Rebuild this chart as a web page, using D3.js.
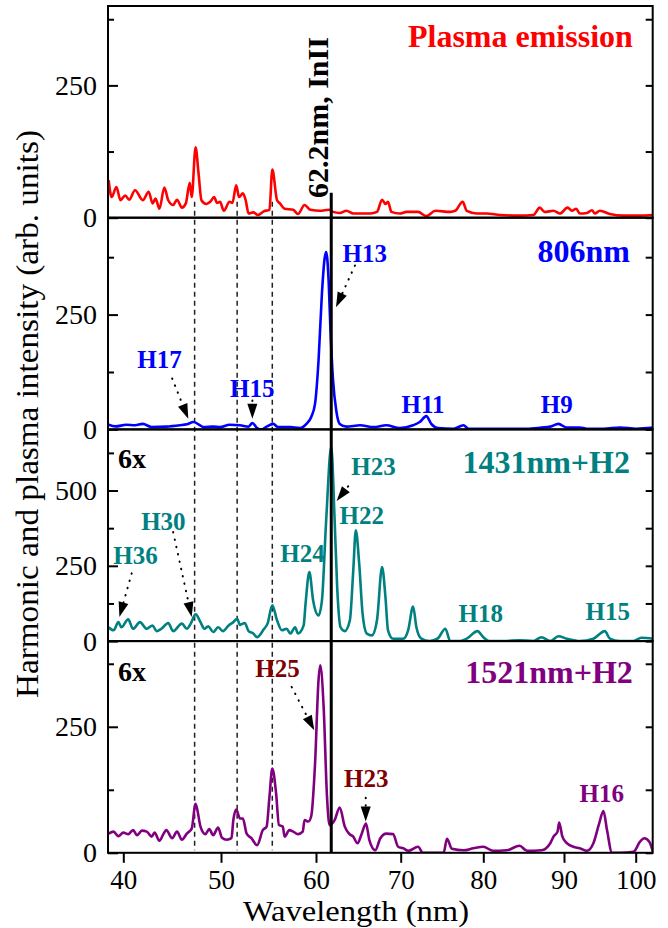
<!DOCTYPE html>
<html>
<head>
<meta charset="utf-8">
<script src="https://cdn.jsdelivr.net/npm/d3@7"></script>
<style>
  body { margin: 0; background: #fff; }
  text { font-family: "Liberation Serif", "Times New Roman", serif; }
</style>
</head>
<body>
<div id="chart"></div>
<script>

// ---- data (wavelength in nm, intensity in arb. units) ----
var plasmaWl = [38.5,38.8,39.3,39.7,40.2,40.6,41.2,42.0,42.6,43.0,43.3,43.7,44.2,44.6,45.1,45.5,46.0,46.4,46.8,47.0,
  47.4,47.7,48.0,48.5,48.9,49.3,49.6,49.9,50.3,50.9,51.2,51.6,51.9,52.3,52.6,52.9,53.4,53.9,54.5,55.1,
  55.4,55.9,56.2,56.7,57.6,58.1,58.8,59.4,60.5,61.5,62.0,62.8,63.6,64.4,66.4,67.2,67.8,68.2,68.5,68.9,
  69.9,70.7,72.1,73.1,74.2,76.0,76.6,77.5,78.0,79.2,80.4,82.1,84.5,86.2,87.0,87.6,88.7,89.5,90.5,91.1,
  91.7,92.2,93.2,93.9,94.3,95.0,96.4,98.3,100.6,102.4];
var plasmaI = [71,39,58,33,42,34,52,33,49,27,36,17,57,33,24,34,19,27,66,39,
  133,84,33,26,30,39,28,30,13,30,28,61,39,46,33,8,10,5,12,15,
  91,33,27,17,15,7,24,15,13,15,11,9,13,8,8,11,34,26,30,11,
  8,11,11,3,13,11,13,30,13,8,8,5,4,5,19,11,13,8,19,13,
  17,8,9,14,8,13,7,4,4,5];

var h806Wl = [38.5,39.2,40.3,41.2,42.0,42.9,44.4,45.8,46.5,47.2,47.7,48.2,49.2,49.9,50.9,52.0,52.9,53.3,53.8,54.3,
  54.8,55.5,56.0,57.3,58.3,59.0,59.5,59.9,60.3,60.7,61.0,61.2,61.5,61.7,62.0,62.4,62.8,63.6,65.2,66.8,
  68.3,69.9,71.5,72.3,73.1,73.7,74.5,76.4,77.6,78.2,80.4,82.9,85.4,87.2,88.3,89.3,90.4,92.2,93.2,95.5,
  97.8,100.1,102.4];
var h806I = [10,6.5,10,9,12,5,6,9,11,16,11,5,6,5,10,9,6,14,3,0,
  6,12,5,5,3,12,27,56,150,296,370,386,320,220,110,40,12,6,9,5,
  9,3,9,16,29,12,3,1.5,9,1.5,1.5,1.5,1.5,4,6,12,4,4,1.5,1.5,
  4,1.5,4];

var h1431Wl = [38.5,39.0,39.5,39.8,40.5,41.0,41.7,42.4,43.0,43.4,43.9,44.6,45.1,46.0,46.5,46.9,47.4,47.9,48.3,48.7,
  49.2,49.7,50.2,50.8,51.3,51.7,52.0,52.5,52.9,53.4,53.8,54.5,54.9,55.4,55.9,56.4,56.9,57.3,57.8,58.1,
  58.7,58.9,59.3,59.7,60.3,60.7,61.2,61.8,62.2,62.5,62.9,63.4,64.0,64.4,64.7,65.1,65.5,66.0,66.6,67.2,
  67.8,68.2,68.5,69.1,70.3,70.9,71.5,71.9,72.5,73.5,74.5,75.4,76.0,77.2,78.0,79.3,80.0,80.8,82.5,84.5,
  86.2,87.2,88.3,89.3,90.4,92.2,94.1,95.7,96.4,97.8,99.7,100.8,102.4];
var h1431I = [46,36,63,46,72,41,63,41,52,33,41,60,33,58,41,58,89,63,41,49,
  30,46,33,52,63,74,54,60,33,25,13,39,58,119,69,36,41,25,46,25,
  52,124,229,135,85,135,401,645,401,179,46,33,69,235,368,257,91,25,19,69,
  246,146,36,8,8,36,115,46,8,0,9,41,0,0,8,33,13,0,0,3,
  0,13,0,16,8,0,8,33,8,0,0,11,8];

var h1521Wl = [38.5,39.0,39.5,40.0,40.5,41.0,41.4,41.9,42.4,42.9,43.2,43.7,44.1,44.4,45.0,45.5,46.0,46.5,47.0,47.4,
  47.9,48.4,48.8,49.2,49.7,50.1,50.6,51.1,51.3,51.6,52.0,52.3,52.7,53.2,53.8,54.4,54.8,55.1,55.4,55.8,
  56.1,56.5,56.7,57.2,57.6,58.1,58.6,58.8,59.2,59.5,59.9,60.3,60.5,60.9,61.3,61.6,62.2,62.8,63.4,63.9,
  64.4,64.9,65.4,65.9,66.3,67.0,67.6,68.3,69.1,69.7,70.3,70.9,72.1,72.7,75.2,75.6,76.2,77.6,78.8,80.0,
  81.2,82.9,84.5,85.4,87.2,88.3,88.7,89.2,89.4,89.8,90.4,91.3,92.2,93.2,94.1,94.9,95.5,96.0,96.7,97.8,
  99.7,100.6,101.2,101.9,102.4];
var h1521I = [38,42,33,40,37,45,35,44,42,32,40,24,37,45,29,42,26,38,48,97,
  52,37,47,35,50,30,26,29,65,86,68,68,38,29,15,45,52,111,167,118,
  55,52,32,45,42,37,42,65,62,73,177,343,372,290,111,55,65,90,52,38,
  32,19,38,58,25,5,29,38,37,12,9,4,12,0,0,28,8,5,9,12,
  4,5,14,4,5,19,32,42,60,32,19,12,9,4,19,58,83,45,0,0,
  2,22,29,22,2];

var xTicks = [40, 50, 60, 70, 80, 90, 100];
var dashedWl = [47.3, 51.7, 55.4];   // dashed guide lines
var inIIWl = 61.8;                   // solid line, "62.2nm, InII"

// harmonic labels: [text, wavelength, intensity]
var labels806  = [["H17", 43.7, 133], ["H15", 53.3, 70], ["H13", 65.75, 364], ["H11", 72.7, 36], ["H9", 89.1, 36]];
var labels1431 = [["H36", 41.25, 257], ["H30", 44.1, 370], ["H24", 58.58, 262], ["H23", 66.8, 550],
                  ["H22", 65.4, 390], ["H18", 79.7, 63], ["H15", 96.1, 69]];
var labels1521 = [["H25", 55.95, 349], ["H23", 65.93, 131], ["H16", 95.26, 101]];

// arrows: [from wl, from I, to wl, to I]
var arrows806  = [[45.0, 111, 46.65, 23], [53.3, 63, 53.3, 23], [64.6, 357, 62.36, 266]];
var arrows1431 = [[40.86, 225, 39.6, 80], [45.1, 362, 47.0, 80], [63.8, 514, 62.44, 465]];
var arrows1521 = [[57.44, 329, 59.82, 243], [65.87, 109, 65.87, 62]];


// ---- layout ----
var W = 668, H = 928;
var left = 108, right = 652.7, top0 = 6, panelH = 211.7;
var serif = '"Liberation Serif", "Times New Roman", serif';

// the wavelength axis of the figure is not evenly stretched, so the scale is piecewise
var x = d3.scaleLinear()
    .domain([38.43, 40, 50, 60, 70, 80, 90, 100, 102.37])
    .range([0, 15.3, 113, 208, 292.7, 375.3, 456, 527.7, 544.7].map(function(d) { return left + d; }));

var panels = [
  { wl: plasmaWl, v: plasmaI, max: 400, color: "#ff0000", major: [0, 250], minor: [125, 375],
    title: "Plasma emission", titleAt: [99.6, 323], labels: [], arrows: [] },
  { wl: h806Wl, v: h806I, max: 461, color: "#0000ff", major: [0, 250], minor: [125, 375],
    title: "806nm", titleAt: [99.2, 364], labels: labels806, arrows: arrows806, labelColor: "#0000ff" },
  { wl: h1431Wl, v: h1431I, max: 703, color: "#008080", major: [0, 250, 500], minor: [125, 375, 625],
    title: "1431nm+H2", titleAt: [99.2, 558], labels: labels1431, arrows: arrows1431, labelColor: "#008080",
    scaleNote: [39.46, 574] },
  { wl: h1521Wl, v: h1521I, max: 420, color: "#800080", major: [0, 250], minor: [125, 375],
    title: "1521nm+H2", titleAt: [99.6, 336], labels: labels1521, arrows: arrows1521,
    labelColor: ["#800000", "#800000", "#800080"], scaleNote: [39.46, 341] }
];

var svg = d3.select("#chart").append("svg")
    .attr("width", W)
    .attr("height", H);

panels.forEach(function(p, i) {
  p.top = top0 + i * panelH;
  p.y = d3.scaleLinear().domain([0, p.max]).range([p.top + panelH, p.top]);
});

// clip for each panel
var defs = svg.append("defs");
panels.forEach(function(p, i) {
  defs.append("clipPath").attr("id", "clip" + i)
    .append("rect")
      .attr("x", left).attr("y", p.top)
      .attr("width", right - left).attr("height", panelH);
});

// dashed guide lines from the plasma panel down to the last panel
dashedWl.forEach(function(w) {
  svg.append("line")
      .attr("x1", x(w)).attr("x2", x(w))
      .attr("y1", panels[0].y(30))
      .attr("y2", panels[3].y(5))
      .attr("stroke", "#222")
      .attr("stroke-width", 1.5)
      .attr("stroke-dasharray", "5,4");
});

// spectra
panels.forEach(function(p, i) {
  var pts = p.wl.map(function(w, k) { return [w, p.v[k]]; });
  var line = d3.line()
      .x(function(d) { return x(d[0]); })
      .y(function(d) { return p.y(d[1]); })
      .curve(d3.curveMonotoneX);
  svg.append("path")
      .datum(pts)
      .attr("clip-path", "url(#clip" + i + ")")
      .attr("fill", "none")
      .attr("stroke", p.color)
      .attr("stroke-width", 2.6)
      .attr("stroke-linejoin", "round")
      .attr("d", line);
});

// InII line
svg.append("line")
    .attr("x1", x(inIIWl)).attr("x2", x(inIIWl))
    .attr("y1", panels[0].y(47))
    .attr("y2", panels[3].y(0))
    .attr("stroke", "#000")
    .attr("stroke-width", 3);

svg.append("text")
    .attr("transform", "translate(" + (x(inIIWl) - 3) + "," + 198 + ") rotate(-90)")
    .attr("font-weight", "bold")
    .attr("font-size", 30)
    .text("62.2nm, InII");

// frames and y ticks
panels.forEach(function(p, i) {
  svg.append("rect")
      .attr("x", left).attr("y", p.top)
      .attr("width", right - left).attr("height", panelH)
      .attr("fill", "none")
      .attr("stroke", "#000")
      .attr("stroke-width", 2);

  var gl = svg.append("g")
      .attr("transform", "translate(" + left + ",0)")
      .call(d3.axisLeft(p.y).tickValues(p.major).tickSize(-10).tickPadding(11).tickFormat(d3.format("d")))
      .attr("font-size", 28)
      .attr("font-family", serif);
  gl.select(".domain").remove();
  gl.selectAll("line").attr("stroke-width", 2);
  gl.selectAll("text").attr("fill", "#000");

  var gm = svg.append("g")
      .attr("transform", "translate(" + left + ",0)")
      .call(d3.axisLeft(p.y).tickValues(p.minor).tickSize(-6).tickFormat(""));
  gm.select(".domain").remove();
  gm.selectAll("line").attr("stroke-width", 2);

  var gr = svg.append("g")
      .attr("transform", "translate(" + right + ",0)")
      .call(d3.axisRight(p.y).tickValues(p.major.concat(p.minor)).tickSize(-7).tickFormat(""));
  gr.select(".domain").remove();
  gr.selectAll("line").attr("stroke-width", 2);

  // panel title
  svg.append("text")
      .attr("x", x(p.titleAt[0]))
      .attr("y", p.y(p.titleAt[1]))
      .attr("text-anchor", "end")
      .attr("font-weight", "bold")
      .attr("font-size", 32)
      .attr("fill", p.color)
      .text(p.title);

  if (p.scaleNote) {
    svg.append("text")
        .attr("x", x(p.scaleNote[0]))
        .attr("y", p.y(p.scaleNote[1]))
        .attr("font-weight", "bold")
        .attr("font-size", 28)
        .text("6x");
  }

  // harmonic labels
  p.labels.forEach(function(l, k) {
    var c = Array.isArray(p.labelColor) ? p.labelColor[k] : p.labelColor;
    svg.append("text")
        .attr("x", x(l[1]))
        .attr("y", p.y(l[2]))
        .attr("text-anchor", "middle")
        .attr("font-weight", "bold")
        .attr("font-size", 25)
        .attr("fill", c)
        .text(l[0]);
  });

  // dotted arrows
  p.arrows.forEach(function(a) {
    var x0 = x(a[0]), y0 = p.y(a[1]), x1 = x(a[2]), y1 = p.y(a[3]);
    var dx = x1 - x0, dy = y1 - y0, len = Math.sqrt(dx * dx + dy * dy);
    var ux = dx / len, uy = dy / len;
    var headL = 15, headW = 5;
    var bx = x1 - ux * headL, by = y1 - uy * headL;
    if (len > headL + 2) {
      svg.append("line")
          .attr("x1", x0).attr("y1", y0)
          .attr("x2", bx).attr("y2", by)
          .attr("stroke", "#000")
          .attr("stroke-width", 2)
          .attr("stroke-linecap", "round")
          .attr("stroke-dasharray", "0.5,7");
    }
    svg.append("path")
        .attr("d", "M" + x1 + "," + y1 +
                   "L" + (bx - uy * headW) + "," + (by + ux * headW) +
                   "L" + (bx + uy * headW) + "," + (by - ux * headW) + "Z")
        .attr("fill", "#000");
  });
});

// wavelength axis
var bottom = panels[3].top + panelH;
var gx = svg.append("g")
    .attr("transform", "translate(0," + bottom + ")")
    .call(d3.axisBottom(x).tickValues(xTicks).tickSize(10).tickPadding(7))
    .attr("font-size", 27)
    .attr("font-family", serif);
gx.select(".domain").remove();
gx.selectAll("line").attr("stroke-width", 2);
gx.selectAll("text").attr("fill", "#000");

svg.append("text")
    .attr("x", 356)
    .attr("y", 921)
    .attr("text-anchor", "middle")
    .attr("font-size", 29)
    .attr("textLength", 226)
    .attr("lengthAdjust", "spacingAndGlyphs")
    .text("Wavelength (nm)");

svg.append("text")
    .attr("transform", "translate(38,414) rotate(-90)")
    .attr("text-anchor", "middle")
    .attr("font-size", 31)
    .attr("textLength", 568)
    .attr("lengthAdjust", "spacingAndGlyphs")
    .text("Harmonic and plasma intensity (arb. units)");

</script>
</body>
</html>
